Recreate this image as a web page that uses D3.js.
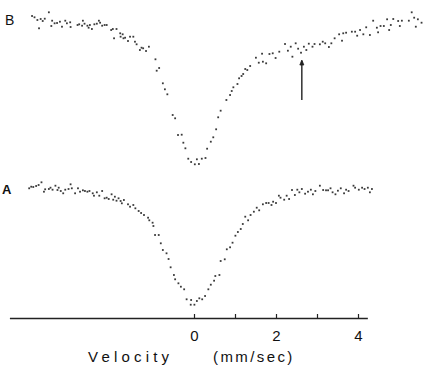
<!DOCTYPE html>
<html>
<head>
<meta charset="utf-8">
<script src="https://cdn.jsdelivr.net/npm/d3@7/dist/d3.min.js"></script>
<style>
  html, body { margin: 0; padding: 0; background: #fff; }
  svg { display: block; }
  text { font-family: "Liberation Sans", "DejaVu Sans", sans-serif; fill: #111; }
</style>
</head>
<body>
<svg id="chart" width="423" height="370"></svg>
<script>
// ---- data: Mössbauer spectra (velocity in mm/sec, relative transmission in %) ----
const velocityB = [-3.95,-3.89,-3.82,-3.78,-3.74,-3.69,-3.64,-3.54,-3.48,-3.46,-3.40,-3.34,-3.27,-3.22,-3.14,-3.10,-3.02,-3.01,-2.84,-2.80,-2.73,-2.71,-2.67,-2.60,-2.57,-2.54,-2.49,-2.43,-2.37,-2.32,-2.29,-2.24,-2.18,-2.13,-2.02,-1.98,-1.95,-1.89,-1.80,-1.79,-1.74,-1.72,-1.68,-1.61,-1.56,-1.48,-1.44,-1.40,-1.32,-1.28,-1.24,-1.17,-1.10,-0.94,-0.91,-0.85,-0.76,-0.71,-0.65,-0.52,-0.46,-0.39,-0.30,-0.26,-0.21,-0.14,-0.07,0.02,0.07,0.12,0.19,0.28,0.32,0.41,0.47,0.54,0.59,0.65,0.79,0.88,0.92,0.96,1.06,1.10,1.16,1.20,1.25,1.30,1.37,1.51,1.58,1.66,1.68,1.76,1.84,1.92,1.99,2.08,2.22,2.29,2.36,2.40,2.48,2.54,2.61,2.68,2.74,2.80,2.89,2.94,3.07,3.14,3.20,3.29,3.35,3.43,3.54,3.61,3.64,3.71,3.85,3.93,3.98,4.05,4.13,4.20,4.29,4.37,4.46,4.49,4.55,4.63,4.71,4.76,4.80,4.86,4.98,5.02,5.07,5.24,5.31,5.37,5.41,5.46,5.55];
const transB = [99.6,99.47,99.2,98.37,99.3,99.1,99.33,99.97,98.6,99.13,98.87,98.9,99.03,98.53,99.13,98.87,98.97,98.5,98.7,98.77,98.63,99.13,98.83,98.63,98.43,98.7,98.3,98.77,98.83,99.13,98.93,98.63,98.7,98.7,98.2,98.3,97.37,98.3,97.87,97.53,97.77,97.37,97.43,97.1,97.53,97.53,97.03,96.77,96.2,96.43,96.37,96.1,96.53,95.27,94.13,94.4,92.87,92.27,91.77,89.7,89.37,87.7,87.73,86.93,86.37,85.33,85.0,84.77,85.27,84.8,85.33,85.4,86.33,87.03,87.47,88.27,89.47,90.13,91.2,91.7,92.1,92.47,92.8,93.37,93.6,93.8,94.3,94.2,94.6,95.43,94.93,95.83,95.03,94.87,95.8,95.87,95.4,96.03,96.8,96.13,96.53,95.53,96.87,96.33,95.93,96.53,96.2,96.83,96.53,96.8,96.77,97.03,96.87,96.5,96.87,97.37,97.77,97.13,97.87,97.93,98.03,98.03,97.63,98.2,97.77,98.47,97.7,99.13,98.43,97.97,98.6,98.6,99.27,98.2,98.7,99.3,99.1,98.6,99.13,99.13,99.97,99.43,98.53,99.27,98.93];

const velocityA = [-4.02,-3.97,-3.92,-3.85,-3.79,-3.72,-3.66,-3.63,-3.54,-3.50,-3.45,-3.38,-3.33,-3.30,-3.25,-3.19,-3.14,-3.06,-3.01,-2.98,-2.90,-2.83,-2.78,-2.71,-2.66,-2.60,-2.55,-2.47,-2.44,-2.37,-2.31,-2.24,-2.18,-2.13,-2.08,-2.01,-1.97,-1.93,-1.89,-1.84,-1.79,-1.76,-1.71,-1.61,-1.56,-1.48,-1.43,-1.35,-1.29,-1.22,-1.12,-1.09,-1.01,-0.99,-0.95,-0.86,-0.81,-0.76,-0.67,-0.62,-0.57,-0.49,-0.46,-0.38,-0.32,-0.24,-0.18,-0.07,-0.08,0.01,0.07,0.13,0.20,0.27,0.35,0.41,0.49,0.52,0.62,0.65,0.75,0.80,0.88,0.94,1.01,1.07,1.14,1.19,1.25,1.32,1.38,1.46,1.53,1.59,1.68,1.76,1.82,1.89,1.93,2.00,2.07,2.11,2.20,2.26,2.32,2.39,2.46,2.52,2.57,2.63,2.71,2.78,2.85,2.90,2.96,3.07,3.15,3.22,3.27,3.33,3.38,3.45,3.51,3.58,3.66,3.71,3.77,3.89,3.93,4.02,4.10,4.16,4.24,4.29,4.34];
const transA = [99.37,99.53,99.5,99.6,99.7,99.97,99.03,99.27,99.3,99.43,99.23,99.63,99.2,99.43,99.1,98.87,99.23,99.3,99.77,99.37,98.87,99.37,99.03,99.17,99.1,99.03,99.1,98.87,98.63,98.97,98.63,99.1,98.37,98.43,98.3,98.77,98.23,98.53,98.13,98.37,98.1,97.87,98.2,97.77,97.53,97.7,97.37,97.1,96.9,96.7,96.43,96.17,95.93,95.6,94.7,94.7,93.87,93.2,92.87,92.3,91.47,90.7,90.27,89.87,89.53,89.27,88.27,88.2,87.73,87.73,88.1,88.37,88.27,88.6,89.27,89.73,90.13,90.6,90.7,92.1,92.27,93.27,93.47,93.93,94.63,95.0,95.3,95.8,96.53,96.17,96.7,97.03,97.43,97.17,97.77,97.9,97.9,97.7,98.03,97.9,98.63,98.43,98.23,98.63,98.3,99.2,98.7,99.23,98.97,99.3,98.83,99.03,99.23,98.77,99.1,99.63,99.2,99.17,99.17,99.37,98.97,98.77,99.13,99.37,98.87,99.23,99.1,99.63,99.43,99.23,99.43,99.3,99.43,98.97,99.3];

const axisTicks = [0, 1, 2, 3, 4];
const tickLabels = ["0", "", "2", "", "4"];
const spectrumLabels = ["B", "A"];
const arrowVelocity = 2.63;
const xLabel = ["Velocity", "(mm/sec)"];

// ---- drawing ----
const svg = d3.select("#chart");
const x = d3.scaleLinear().domain([0, 4]).range([194, 358]);
const yB = d3.scaleLinear().domain([85, 100]).range([162, 12]);
const yA = d3.scaleLinear().domain([85, 100]).range([332, 182]);

function drawDots(vel, tr, y) {
  svg.append("g").selectAll("rect")
    .data(vel.map((v, i) => [v, tr[i]]))
    .join("rect")
    .attr("x", d => x(d[0]) - 0.9)
    .attr("y", d => y(d[1]) - 0.9)
    .attr("width", 1.8)
    .attr("height", 1.8)
    .attr("fill", "#3a3a3a");
}
drawDots(velocityB, transB, yB);
drawDots(velocityA, transA, yA);

// velocity axis
const axisY = 318;
const axis = d3.axisBottom(x)
  .tickValues(axisTicks)
  .tickFormat((d, i) => tickLabels[i])
  .tickSizeInner(-4)
  .tickSizeOuter(0)
  .tickPadding(12);
const gAxis = svg.append("g").attr("transform", `translate(0,${axisY})`).call(axis);
gAxis.select(".domain").remove();
gAxis.append("line")
  .attr("x1", x(-4.49)).attr("x2", x(4.24))
  .attr("y1", 0.5).attr("y2", 0.5)
  .attr("stroke", "#222").attr("stroke-width", 1.3);
gAxis.selectAll(".tick line").attr("stroke", "#222").attr("stroke-width", 1.2);
gAxis.selectAll(".tick text")
  .attr("font-size", 15)
  .attr("font-family", "Liberation Sans, sans-serif")
  .attr("fill", "#111");

// arrow marking velocity in spectrum B
const ax = x(arrowVelocity);
svg.append("line")
  .attr("x1", ax).attr("x2", ax)
  .attr("y1", yB(95.1)).attr("y2", yB(91.2))
  .attr("stroke", "#222").attr("stroke-width", 1.4);
svg.append("path")
  .attr("d", `M${ax - 2},${yB(94.7)} L${ax},${yB(95.2)} L${ax + 2},${yB(94.7)} Z`)
  .attr("fill", "#222").attr("stroke", "#222").attr("stroke-width", 0.8);

// spectrum labels
svg.append("text").text(spectrumLabels[0])
  .attr("x", 5).attr("y", 25).attr("font-size", 14).attr("font-weight", "normal");
svg.append("text").text(spectrumLabels[1])
  .attr("x", 2).attr("y", 194).attr("font-size", 13).attr("font-weight", "bold");

// axis title
svg.append("text").text(xLabel[0])
  .attr("x", 88).attr("y", 362).attr("font-size", 15).attr("letter-spacing", 4.2);
svg.append("text").text(xLabel[1])
  .attr("x", 213).attr("y", 362).attr("font-size", 15).attr("letter-spacing", 2.4);
</script>
</body>
</html>
